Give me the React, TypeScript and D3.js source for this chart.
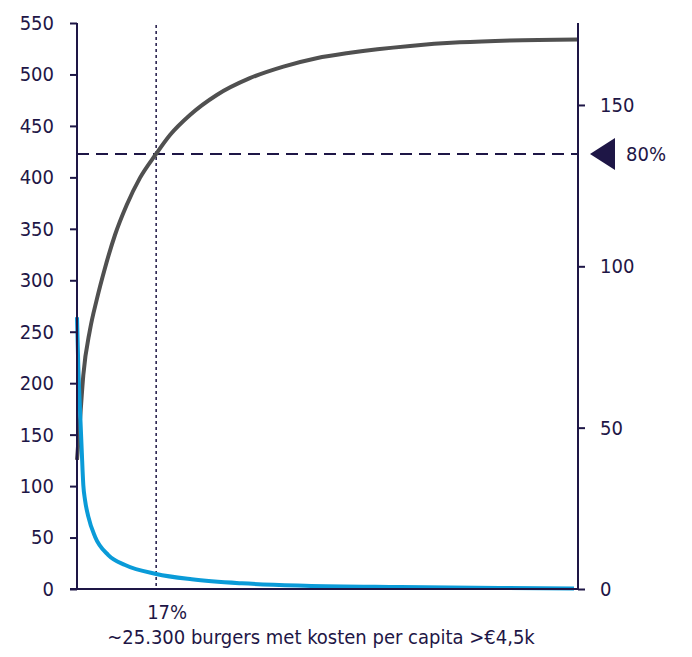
import React, { useRef, useEffect } from 'react';
import * as d3 from 'd3';

// share of burgers (%, sorted by cost) -> cumulative cost (right axis)
const cumPct = [0, 0.6, 1.26, 2.59, 3.93, 5.59, 7.58, 9.92, 12.57, 15.77, 18.56, 22.55, 27.9, 34.5, 41.2, 47.8, 54.5, 66.5, 76.4, 86.4, 100];
const cumValues = [40, 52.4, 66.3, 80.3, 89.6, 99.5, 109.7, 119.0, 127.4, 134.8, 140.7, 146.9, 153.1, 158.3, 161.9, 164.5, 166.2, 168.3, 169.4, 170.0, 170.3];

// share of burgers (%) -> cost per capita (left axis)
const costPct = [0, 0.26, 0.6, 0.94, 1.26, 1.6, 2.26, 3.6, 6.25, 9.6, 15.8, 22.9, 32.9, 45.5, 64.5, 84.4, 99.2];
const costValues = [264, 216, 174, 135, 101, 86.5, 70.3, 50.8, 33, 23.3, 14.6, 9.4, 5.5, 3.2, 1.9, 1.0, 0.5];

const leftTicks = [0, 50, 100, 150, 200, 250, 300, 350, 400, 450, 500, 550];
const rightTicks = [0, 50, 100, 150];

const cutoffPct = 15.8;
const cutoffValue = 134.8;
const cutoffLabel = '17%';
const shareLabel = '80%';
const xTitle = '~25.300 burgers met kosten per capita >€4,5k';

const W = 692;
const H = 657;
const margin = { top: 23, right: 114, bottom: 68, left: 77 };
const navy = '#1e1646';
const font = "'DejaVu Sans Condensed', 'DejaVu Sans', sans-serif";
const fontSize = '20px';

const App = () => {
  const ref = useRef<SVGSVGElement | null>(null);

  useEffect(() => {
    if (!ref.current) return;
    const svg = d3.select(ref.current);
    svg.selectAll('*').remove();

    const x0 = margin.left;
    const x1 = W - margin.right;
    const y0 = H - margin.bottom;
    const y1 = margin.top;

    const x = d3.scaleLinear().domain([0, 100]).range([x0, x1]);
    const yL = d3.scaleLinear().domain([0, 550]).range([y0, y1]);
    const yR = d3.scaleLinear().domain([0, 175.4]).range([y0, y1]);

    // reference lines
    svg.append('line')
      .attr('x1', x(cutoffPct)).attr('x2', x(cutoffPct))
      .attr('y1', y1 + 2).attr('y2', y0)
      .attr('stroke', navy).attr('stroke-width', 1.5)
      .attr('stroke-dasharray', '3 3');

    svg.append('line')
      .attr('x1', x0).attr('x2', x1)
      .attr('y1', yR(cutoffValue)).attr('y2', yR(cutoffValue))
      .attr('stroke', navy).attr('stroke-width', 1.8)
      .attr('stroke-dasharray', '12 7');

    // curves
    const cumLine = d3.line<number>()
      .curve(d3.curveMonotoneX)
      .x((_, i) => x(cumPct[i]))
      .y((d) => yR(d));
    svg.append('path')
      .datum(cumValues)
      .attr('fill', 'none')
      .attr('stroke', '#505050')
      .attr('stroke-width', 4)
      .attr('d', cumLine);

    const costLine = d3.line<number>()
      .curve(d3.curveMonotoneX)
      .x((_, i) => x(costPct[i]))
      .y((d) => yL(d));
    svg.append('path')
      .datum(costValues)
      .attr('fill', 'none')
      .attr('stroke', '#0a9bd8')
      .attr('stroke-width', 4)
      .attr('d', costLine);

    // axes
    const axisStyle = (g: d3.Selection<SVGGElement, unknown, null, undefined>) => {
      g.select('.domain').remove();
      g.selectAll('line').attr('stroke', navy).attr('stroke-width', 2);
      g.selectAll('text')
        .attr('fill', navy)
        .style('font-family', font)
        .style('font-size', fontSize);
    };

    svg.append('g')
      .attr('transform', `translate(${x0},0)`)
      .call(d3.axisLeft(yL).tickValues(leftTicks).tickSize(7).tickPadding(16).tickSizeOuter(0))
      .call(axisStyle);

    svg.append('g')
      .attr('transform', `translate(${x1},0)`)
      .call(d3.axisRight(yR).tickValues(rightTicks).tickSize(7).tickPadding(15).tickSizeOuter(0))
      .call(axisStyle);

    svg.append('line')
      .attr('x1', x0).attr('x2', x0).attr('y1', y1).attr('y2', y0 + 1)
      .attr('stroke', navy).attr('stroke-width', 2);
    svg.append('line')
      .attr('x1', x1).attr('x2', x1).attr('y1', y1).attr('y2', y0 + 1)
      .attr('stroke', navy).attr('stroke-width', 2);
    svg.append('line')
      .attr('x1', x0 - 7).attr('x2', x1).attr('y1', y0).attr('y2', y0)
      .attr('stroke', navy).attr('stroke-width', 2);

    // 80% marker
    const my = yR(cutoffValue);
    const mx = x1 + 12;
    svg.append('path')
      .attr('d', `M${mx},${my} L${mx + 25},${my - 16} L${mx + 25},${my + 16} Z`)
      .attr('fill', navy);
    svg.append('text')
      .attr('x', mx + 36).attr('y', my)
      .attr('dy', '0.35em')
      .attr('fill', navy)
      .style('font-family', font)
      .style('font-size', fontSize)
      .text(shareLabel);

    // bottom labels
    svg.append('text')
      .attr('x', x(cutoffPct) + 11).attr('y', 619)
      .attr('text-anchor', 'middle')
      .attr('fill', navy)
      .style('font-family', font)
      .style('font-size', fontSize)
      .text(cutoffLabel);
    svg.append('text')
      .attr('x', 321).attr('y', 644)
      .attr('text-anchor', 'middle')
      .attr('fill', navy)
      .style('font-family', font)
      .style('font-size', fontSize)
      .text(xTitle);
  }, []);

  return (
    <svg
      ref={ref}
      width={W}
      height={H}
      style={{ position: 'absolute', left: 0, top: 0, background: '#fff' }}
    />
  );
};

export default App;
